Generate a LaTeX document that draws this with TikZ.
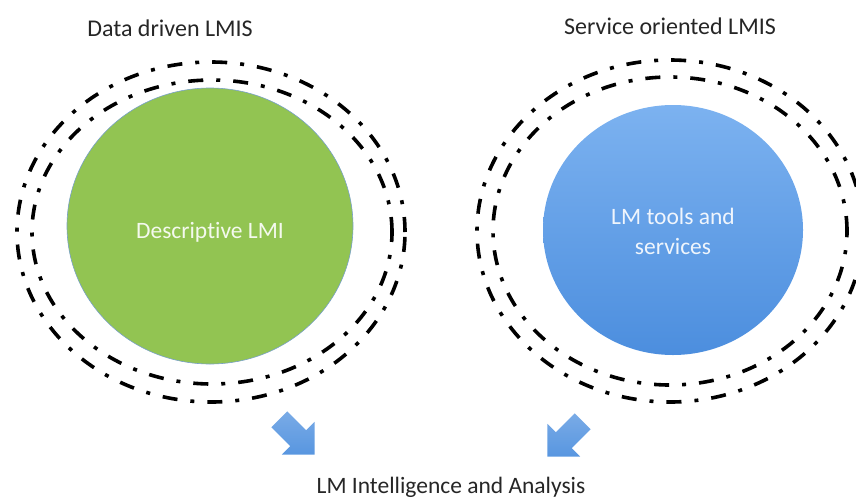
\documentclass[tikz,border=0pt]{standalone}
\usepackage{fontspec}
\setmainfont[Ligatures={NoCommon,NoContextual,NoRare}, Contextuals=NoAlternate]{Carlito}
\usetikzlibrary{shapes.geometric,shapes.arrows}

\definecolor{leafgreen}{RGB}{146,196,82}
\definecolor{skytop}{RGB}{124,178,240}
\definecolor{skybot}{RGB}{76,142,222}
\definecolor{arrowblue}{RGB}{88,150,224}
\definecolor{rimblue}{RGB}{120,160,200}

\tikzset{
  ring/.style={ellipse, draw=black, line width=3.6pt,
    dash pattern=on 15pt off 13pt on 4pt off 13pt, inner sep=0pt},
  core/.style={ellipse, inner sep=0pt, text=white, align=center},
  caption/.style={font=\fontsize{23.5}{30}\selectfont, text=black!85, inner sep=0pt},
  blockarrow/.style={single arrow, inner sep=11pt, single arrow head extend=12pt,
    minimum height=50pt, draw=none, top color=arrowblue!80!white, bottom color=arrowblue}
}

\begin{document}
\begin{tikzpicture}[x=1pt, y=-1pt]
  \useasboundingbox (0,0) rectangle (856,498);
  \clip (0,0) rectangle (856,498);

  % left group
  \node[ring, minimum width=388pt, minimum height=340pt] (louter) at (211,232) {};
  \node[ring, minimum width=360pt, minimum height=304pt] (linner) at (212,232) {};
  \node[core, fill=leafgreen, draw=rimblue, line width=0.6pt,
        minimum width=286pt, minimum height=276pt] (desc) at (210,226) {};
  \node[text=white, opacity=0.9, font=\fontsize{23.5}{30}\selectfont, inner sep=0pt]
        (desctext) at (210,232) {Descrip\kern0pt tive LMI};

  % right group
  \node[ring, minimum width=386pt, minimum height=342pt] (router) at (670,231) {};
  \node[ring, minimum width=354pt, minimum height=308pt] (rinner) at (670,231) {};
  \node[core, top color=skytop, bottom color=skybot,
        minimum width=260pt, minimum height=250pt] (tools) at (673,230) {};
  \node[text=white, opacity=0.9, align=center, font=\fontsize{23.5}{30}\selectfont, inner sep=0pt]
        (toolstext) at (673,231) {LM tools and\\services};

  % captions
  \node[caption, font=\fontsize{24}{30}\selectfont] (ltitle) at (170,28) {Data driven LMIS};
  \node[caption, font=\fontsize{24}{30}\selectfont] (rtitle) at (670,26) {Service oriented LMIS};
  \node[caption] (result) at (451,487) {LM Intelligence and Analysis};

  % block arrows towards the result
  \node[blockarrow, rotate=-45] (larrow) at (293,433) {};
  \node[blockarrow, rotate=-135] (rarrow) at (569,435) {};
\end{tikzpicture}
\end{document}
